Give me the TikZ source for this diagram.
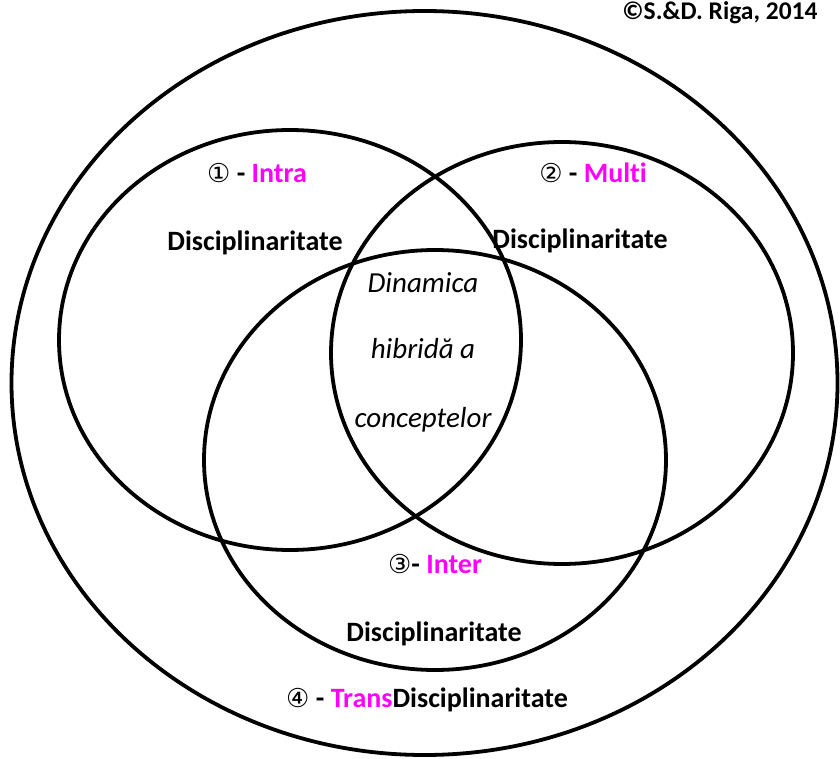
\documentclass[tikz,border=0pt]{standalone}
\usepackage{fontspec}
\setmainfont[Ligatures={NoCommon}]{Carlito}
\newfontfamily\symf{DejaVu Sans}
\definecolor{mag}{HTML}{FF00FF}
\newcommand{\circd}[1]{{\symf\mdseries\fontsize{26}{30}\selectfont #1}}
\begin{document}
\begin{tikzpicture}[x=1pt,y=-1pt,
  ring/.style={line width=3.8pt},
  lbl/.style={anchor=base,inner sep=0pt,font=\fontsize{28}{32}\selectfont\bfseries},
  ital/.style={anchor=base,inner sep=0pt,font=\fontsize{29}{33}\selectfont\itshape}]
\useasboundingbox (0,0) rectangle (840,759);
\draw[ring] (424.5,383) ellipse [x radius=413, y radius=372];
\draw[ring] (290,340) ellipse [x radius=231, y radius=210];
\draw[ring] (562,353) ellipse [x radius=231, y radius=211];
\draw[ring] (435,460) ellipse [x radius=231, y radius=210];
\node[anchor=base,inner sep=0pt,font=\fontsize{25.5}{29}\selectfont\bfseries] (copy) at (720,20) {©S.\&D. Riga, 2014};
\node[lbl] (intra) at (257,183) {\circd{①} - \textcolor{mag}{Intra}};
\node[lbl] (multi) at (593,183) {\circd{②} - \textcolor{mag}{Multi}};
\node[lbl] (d1) at (255,251) {Disciplinaritate};
\node[lbl] (d2) at (580,248) {Disciplinaritate};
\node[ital] (c1) at (423,292) {Dinamica};
\node[ital] (c2) at (423,358) {hibridă a};
\node[ital] (c3) at (423,427) {conceptelor};
\node[lbl] (inter) at (435,573) {\circd{③}- \textcolor{mag}{Inter}};
\node[lbl] (d3) at (434,641) {Disciplinaritate};
\node[lbl] (trans) at (427,707) {\circd{④} - \textcolor{mag}{Trans}Disciplinaritate};
\end{tikzpicture}
\end{document}
